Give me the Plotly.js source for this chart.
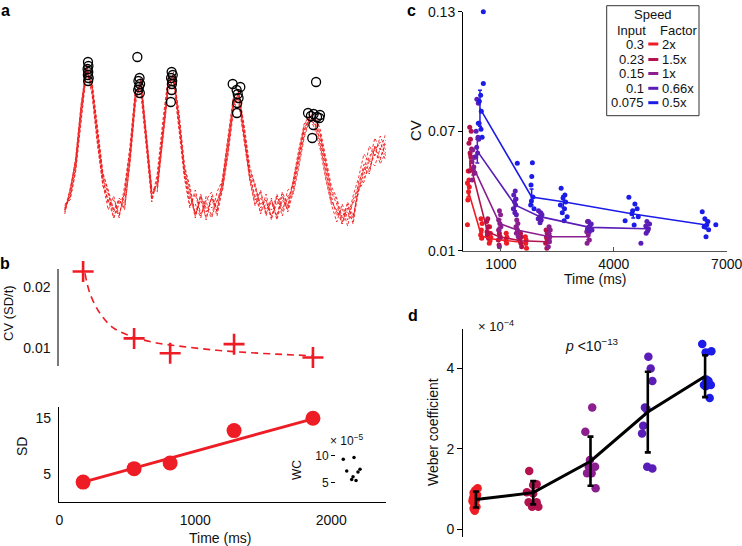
<!DOCTYPE html>
<html>
<head>
<meta charset="utf-8">
<script src="https://cdn.plot.ly/plotly-3.0.1.min.js"></script>
<style>html,body{margin:0;padding:0;background:#fff;}#chart{width:742px;height:546px;}</style>
</head>
<body>
<div id="chart"></div>
<script>
// ---------- Panel a: activity traces (arbitrary units) ----------
const aTime = [40,80,120,160,200,240,280,320,360,400,440,480,520,560,600,640,680,720,760,800,840,880,920,960,1000,1040,1080,1120,1160,1200,1240,1280,1320,1360,1400,1440,1480,1520,1560,1600,1640,1680,1720,1760,1800,1840,1880,1920,1960,2000,2040,2080,2120,2160,2200,2240,2280,2320,2360,2400];
const aTrace1 = [20,36,66,120,166,142,92,50,28,22, 14,38,78,138,146,88,32,48,100,148, 156,108,58,34,16,30,12,32,22,46, 84,126,134,96,56,30,38,14,30,12, 34,20,42,70,98,114,108,90,60,34, 14,22,4,30,44,66,58,84,72,86];
const aTrace2 = [26,30,58,108,158,150,104,58,38,12, 30,22,66,126,150,98,40,40,88,138, 152,118,66,40,14,36,10,34,18,40, 74,118,136,104,64,44,16,36,12,32, 14,34,36,62,92,110,112,96,68,40, 30,8,22,12,40,48,70,64,82,70];
const aTrace3 = [18,40,70,124,162,136,86,46,20,34, 12,44,82,140,136,80,28,52,104,150, 148,100,52,22,40,16,28,14,38,50, 90,130,126,90,50,24,40,16,32,10, 30,22,48,76,104,116,104,84,54,28, 20,6,18,8,48,60,84,74,94,80];
const aTrace4 = [24,32,60,112,160,146,100,56,40,20, 30,20,70,130,152,96,42,38,92,140, 158,114,62,44,16,34,22,12,30,40, 78,122,140,100,60,46,22,30,14,26, 36,18,38,66,94,112,116,100,70,44, 32,12,26,6,40,52,62,76,70,90];
const aTrace5 = [16,38,72,126,164,138,88,44,30,12, 26,36,84,142,140,84,30,56,108,152, 150,104,54,24,36,14,30,38,18,52, 94,134,130,92,52,26,32,20,28,14, 38,24,50,80,106,114,100,80,50,26, 8,26,10,34,52,76,68,92,80,96];
const aTrace6 = [22,34,62,116,160,144,96,52,36,18, 32,26,72,132,148,92,38,44,96,144, 154,110,60,38,12,34,18,32,14,44, 80,124,138,98,58,42,26,30,10,36, 18,40,44,72,100,112,110,94,64,38, 26,6,28,14,38,62,56,84,66,78];
const aTrace7 = [20,42,68,118,158,146,98,54,26,30, 16,34,74,134,144,92,36,46,98,146, 152,112,56,30,26,12,34,22,28,48, 86,128,132,94,54,34,18,26,20,34, 22,30,46,74,102,110,106,88,58,30, 18,14,20,26,42,56,74,80,88,74];
const aPeakTime = [211,214,208,213,210,216,212, 574,590,582,594,586,580,592, 826,834,822,830,828,826,820, 1275,1331,1304,1312,1318,1308,1306, 1888,1829,1850,1870,1895,1917,1912,1868,1860];
const aPeakVal  = [168,164,161,158,155,152,149, 173,152,149,146,143,140,137, 158,155,152,149,146,140,128, 146,143,140,136,132,127,117, 148,117,114,116,113,115,112,105,92];

// ---------- Panel b ----------
const bTime = [175, 550, 815, 1285, 1865];
const bCV   = [0.0226, 0.01155, 0.0091, 0.0106, 0.0084];
const bSD   = [3.6, 6.0, 7.0, 12.8, 15.0];
const bCVfitTime = [189, 225, 299, 397, 544, 716, 912, 1157, 1402, 1647, 1856];
const bCVfit     = [0.0223, 0.0190, 0.0157, 0.0133, 0.0118, 0.0108, 0.0102, 0.0096, 0.0092, 0.0089, 0.0087];
const bSDfitTime = [175, 1865];
const bSDfit     = [3.6, 14.9];
const wcX = [0.97, 2.4, 1.43, 3.2, 2.93, 2.09, 2.67, 2.27];
const wcY = [9.4, 9.7, 7.2, 7.5, 7.0, 5.6, 5.4, 6.1];

// ---------- Panel c ----------
const speedInput  = ['0.3', '0.23', '0.15', '0.1', '0.075'];
const speedFactor = ['2x', '1.5x', '1x', '0.66x', '0.5x'];
const speedColors = ['#ee1c24', '#b3124e', '#8b1f8f', '#5a1db8', '#1c1ce8'];

const cMeanTime = [
  [133, 482, 714, 1146, 1661],
  [177, 642, 952, 1528, 2215],
  [266, 963, 1429, 2292, 3322],
  [373, 1374, 2038, 3366, 4872],
  [443, 1816, 2658, 4517, 6466]
];
const cMeanCV = [
  [0.040, 0.0175, 0.0160, 0.0150, 0.0140],
  [0.054, 0.0195, 0.0170, 0.0150, 0.0145],
  [0.052, 0.0237, 0.0204, 0.0170, 0.0170],
  [0.060, 0.0330, 0.0271, 0.0217, 0.0210],
  [0.0815, 0.0370, 0.0346, 0.0284, 0.0229]
];
const cErr = [
  [0.003, 0.0015, 0.001, 0.001, 0.001],
  [0.004, 0.0015, 0.001, 0.001, 0.001],
  [0.004, 0.002, 0.0015, 0.0015, 0.0015],
  [0.006, 0.003, 0.002, 0.0015, 0.0015],
  [0.009, 0.004, 0.003, 0.002, 0.002]
];
const cDotTime = [
  [130,150,110,160,140,120,110, 470,500,480,460,490, 700,720,730,710,690, 1140,1160,1130,1150, 1650,1670,1660,1680],
  [170,210,190,150,220,180,200,160, 650,620,660,630,640,670, 940,960,980,930,950, 1520,1540,1500,1530,1550, 2200,2230,2210,2240,2190,2220],
  [250,300,230,280,260,310,240, 960,990,940,970,1000,950,980,960, 1420,1450,1400,1440,1410,1460, 2280,2310,2270,2300,2290,2260, 3300,3340,3280,3320,3350,3290],
  [360,400,420,340,390,410,355,380,330, 1380,1340,1400,1360,1390,1330,1370,1410, 2000,2060,2090,2030,1990,2070,2040, 3330,3400,3360,3300,3420,3350, 4880,4950,4850,4920,4900,4860,4720],
  [532,532,461,426,479,399,470,500, 1435,1836,1820,1800,1850,1790,1880,1810, 2600,2700,2650,2720,2580,2690,2630,2760,2680, 4400,4560,4620,4500,4480,4650,4300,4540, 6350,6420,6500,6470,6400,6520,6450,6710]
];
const cDotCV = [
  [0.050,0.0455,0.044,0.042,0.0396,0.0355,0.023, 0.026,0.0237,0.0204,0.0179,0.0162, 0.022,0.0187,0.0167,0.015,0.0137, 0.0187,0.0167,0.0154,0.0137, 0.017,0.0154,0.0137,0.0112],
  [0.072,0.070,0.066,0.064,0.061,0.059,0.057,0.050, 0.026,0.0246,0.022,0.0195,0.0179,0.0162, 0.0204,0.0187,0.017,0.0154,0.0128, 0.0187,0.017,0.0154,0.0137,0.012, 0.0204,0.0187,0.0167,0.0154,0.0137,0.0112],
  [0.0605,0.057,0.0547,0.052,0.0505,0.049,0.0455, 0.030,0.028,0.0254,0.0237,0.022,0.0204,0.0162,0.012, 0.0254,0.0237,0.022,0.0204,0.0187,0.017, 0.022,0.0204,0.0187,0.017,0.0145,0.012, 0.0246,0.022,0.0195,0.0179,0.0154,0.0137],
  [0.086,0.084,0.074,0.070,0.067,0.066,0.062,0.059,0.057, 0.040,0.038,0.036,0.0346,0.033,0.031,0.029,0.028, 0.030,0.029,0.028,0.027,0.026,0.0254,0.024, 0.0246,0.0234,0.022,0.021,0.0204,0.0195, 0.0246,0.0234,0.0224,0.021,0.020,0.0187,0.0137],
  [0.130,0.094,0.088,0.085,0.080,0.074,0.071,0.067, 0.0539,0.0542,0.0472,0.043,0.037,0.033,0.031,0.035, 0.0413,0.038,0.0365,0.0345,0.033,0.031,0.029,0.027,0.025, 0.0368,0.0335,0.031,0.030,0.0285,0.027,0.025,0.0229, 0.0296,0.026,0.0246,0.023,0.022,0.0205,0.017,0.023]
];

// ---------- Panel d ----------
const dCat  = [1, 2, 3, 4, 5];
const dMean = [0.74, 0.91, 1.69, 2.91, 3.80];
const dErr  = [0.20, 0.29, 0.61, 1.00, 0.52];
const dDotX = [
  [1.03,0.99,0.96,1.02,0.95,1.00,0.94,0.97,1.01,0.96,0.98],
  [1.93,2.06,2.00,1.89,2.00,1.92,2.06,1.98,2.09],
  [3.03,2.91,3.08,2.97,2.94,3.02,3.09,2.99],
  [4.01,4.05,4.08,3.95,3.98,3.92,3.90,3.99,4.08],
  [4.95,5.01,5.11,5.06,4.98,5.10,5.01,5.08,5.02]
];
const dDotY = [
  [1.02,0.97,0.91,0.85,0.77,0.73,0.70,0.64,0.56,0.52,0.46],
  [1.45,1.12,1.10,0.92,0.89,0.67,0.67,0.56,0.56],
  [3.02,2.42,1.55,1.55,1.39,1.39,1.02,1.72],
  [4.28,3.99,3.68,3.02,2.98,2.57,2.38,1.55,1.51],
  [4.60,4.39,4.42,3.68,3.58,3.58,3.55,3.26,3.72]
];

// ---------- build ----------
const FONT = 'Liberation Sans, Arial, Helvetica, sans-serif';
const W = 742, H = 546;
const px = x => x / W;
const py = y => 1 - y / H;
const RED = '#ee1c24';

const traces = [];
[aTrace1, aTrace2, aTrace3, aTrace4, aTrace5, aTrace6, aTrace7].forEach(tr => {
  traces.push({x: aTime, y: tr, xaxis: 'x', yaxis: 'y', mode: 'lines',
    line: {color: 'rgba(240,25,25,0.85)', width: 1, dash: '3px,2px'}, hoverinfo: 'skip'});
});
traces.push({x: aPeakTime, y: aPeakVal, xaxis: 'x', yaxis: 'y', mode: 'markers', cliponaxis: false,
  marker: {symbol: 'circle-open', size: 9, color: '#000', line: {width: 1.3, color: '#000'}}});

// b top
traces.push({x: bCVfitTime, y: bCVfit, xaxis: 'x2', yaxis: 'y2', mode: 'lines',
  line: {color: RED, width: 1.6, dash: '7px,5px', shape: 'spline'}});
traces.push({x: bTime, y: bCV, xaxis: 'x2', yaxis: 'y2', mode: 'markers', cliponaxis: false,
  marker: {symbol: 'cross-thin-open', size: 15, color: RED, line: {width: 2.6, color: RED}}});
// b bottom
traces.push({x: bSDfitTime, y: bSDfit, xaxis: 'x3', yaxis: 'y3', mode: 'lines',
  line: {color: RED, width: 2.8}});
traces.push({x: bTime, y: bSD, xaxis: 'x3', yaxis: 'y3', mode: 'markers', cliponaxis: false,
  marker: {symbol: 'circle', size: 15, color: RED}});
// inset
traces.push({x: wcX, y: wcY, xaxis: 'x4', yaxis: 'y4', mode: 'markers',
  marker: {symbol: 'circle', size: 3.5, color: '#000'}});

// c
for (let s = 0; s < 5; s++) {
  traces.push({x: cDotTime[s], y: cDotCV[s], xaxis: 'x5', yaxis: 'y5', mode: 'markers', cliponaxis: false,
    marker: {size: 5, color: speedColors[s]}});
}
for (let s = 0; s < 5; s++) {
  traces.push({x: cMeanTime[s], y: cMeanCV[s], xaxis: 'x5', yaxis: 'y5', mode: 'lines',
    line: {color: speedColors[s], width: 1.6},
    error_y: {type: 'data', array: cErr[s], color: speedColors[s], thickness: 1.5, width: 2}});
}

// d
for (let k = 0; k < 5; k++) {
  traces.push({x: dDotX[k], y: dDotY[k], xaxis: 'x6', yaxis: 'y6', mode: 'markers', cliponaxis: false,
    marker: {size: 8.5, color: speedColors[k]}});
}
traces.push({x: dCat, y: dMean, xaxis: 'x6', yaxis: 'y6', mode: 'lines',
  line: {color: '#000', width: 3},
  error_y: {type: 'data', array: dErr, color: '#000', thickness: 2.6, width: 3}});

const xDomB = [px(59.3), px(385.7)];
const baseAx = {showgrid: false, zeroline: false, fixedrange: true, ticklabeloverflow: 'allow'};
const tf = {family: FONT, size: 14, color: '#111'};

const layout = {
  width: W, height: H, margin: {l: 0, r: 0, t: 0, b: 0},
  paper_bgcolor: '#fff', plot_bgcolor: 'rgba(0,0,0,0)', showlegend: false,
  font: {family: FONT, size: 14, color: '#111'},
  xaxis:  Object.assign({}, baseAx, {domain: xDomB, range: [0, 2400], visible: false, anchor: 'y'}),
  yaxis:  Object.assign({}, baseAx, {domain: [py(232), py(50)], range: [-2, 180], visible: false, anchor: 'x'}),
  xaxis2: Object.assign({}, baseAx, {domain: xDomB, range: [0, 2400], visible: false, anchor: 'y2'}),
  yaxis2: Object.assign({}, baseAx, {domain: [py(366), py(269)], range: [0.007, 0.023], anchor: 'x2',
    showline: true, linecolor: '#7a7a7a', linewidth: 2, tickvals: [0.01, 0.02], ticktext: ['0.01', '0.02'],
    ticks: 'outside', ticklen: 4, tickcolor: 'rgba(0,0,0,0)', tickfont: tf}),
  xaxis3: Object.assign({}, baseAx, {domain: xDomB, range: [0, 2400], anchor: 'y3',
    showline: true, linecolor: '#000', linewidth: 1.5, tickvals: [0, 1000, 2000],
    ticks: 'outside', ticklen: 5, tickcolor: 'rgba(0,0,0,0)', tickfont: tf}),
  yaxis3: Object.assign({}, baseAx, {domain: [py(501.7), py(406.7)], range: [0.1, 17.07], anchor: 'x3',
    showline: true, linecolor: '#000', linewidth: 1.5, tickvals: [5, 15],
    ticks: 'outside', ticklen: 4, tickcolor: 'rgba(0,0,0,0)', tickfont: tf}),
  xaxis4: Object.assign({}, baseAx, {domain: [px(336), px(366)], range: [0, 4], visible: false, anchor: 'y4'}),
  yaxis4: Object.assign({}, baseAx, {domain: [py(492), py(446)], range: [3.26, 11.87], anchor: 'x4',
    showline: false, tickvals: [5, 10], ticks: 'outside', ticklen: 4, tickcolor: '#000', tickwidth: 1,
    tickfont: {family: FONT, size: 12, color: '#111'}}),
  xaxis5: Object.assign({}, baseAx, {domain: [px(463.3), px(726.7)], range: [0, 7000], anchor: 'y5',
    showline: true, linecolor: '#555', linewidth: 1.2, tickvals: [1000, 4000, 7000],
    ticks: 'inside', ticklen: 4, tickcolor: '#555', tickfont: tf}),
  yaxis5: Object.assign({}, baseAx, {domain: [py(250.7), py(11.7)], range: [0.01, 0.13], anchor: 'x5',
    showline: true, linecolor: '#000', linewidth: 1.3, tickvals: [0.01, 0.07, 0.13], ticktext: ['0.01', '0.07', '0.13'],
    ticks: 'outside', ticklen: 4, tickcolor: '#000', tickfont: tf}),
  xaxis6: Object.assign({}, baseAx, {domain: [px(463.3), px(726.7)], range: [0.78, 5.377], visible: false, anchor: 'y6'}),
  yaxis6: Object.assign({}, baseAx, {domain: [py(537), py(329)], range: [-0.19, 4.97], anchor: 'x6',
    showline: true, linecolor: '#000', linewidth: 1.3, tickvals: [0, 2, 4],
    ticks: 'outside', ticklen: 5, tickcolor: '#000', tickfont: tf}),
  shapes: [],
  annotations: []
};

function ann(text, x, y, o) {
  layout.annotations.push(Object.assign({text: text, x: px(x), y: py(y), xref: 'paper', yref: 'paper',
    showarrow: false, xanchor: 'center', yanchor: 'middle', font: {family: FONT, size: 14, color: '#111'}}, o || {}));
}
// panel letters
const letterFont = {family: FONT, size: 16, color: '#000'};
ann('<b>a</b>', 5, 10, {font: letterFont});
ann('<b>b</b>', 5, 263, {font: letterFont});
ann('<b>c</b>', 411, 10, {font: letterFont});
ann('<b>d</b>', 413, 315, {font: letterFont});
// titles
ann('CV (SD/t)', 8, 313, {textangle: -90, font: {family: FONT, size: 13, color: '#111'}});
ann('SD', 22, 447, {textangle: -90});
ann('Time (ms)', 220, 538);
ann('× 10<sup>−5</sup>', 347, 440, {font: {family: FONT, size: 12, color: '#111'}});
ann('WC', 297, 470, {textangle: -90, font: {family: FONT, size: 12, color: '#111'}});
ann('CV', 415, 131, {textangle: -90, font: {family: FONT, size: 15, color: '#111'}});
ann('Time (ms)', 595, 279);
ann('Weber coefficient', 433, 432, {textangle: -90});
ann('× 10<sup>−4</sup>', 496, 326, {font: {family: FONT, size: 13, color: '#111'}});
ann('<i>p</i> &lt;10<sup>−13</sup>', 592, 345);

// legend for panel c
layout.shapes.push({type: 'rect', xref: 'paper', yref: 'paper', x0: px(606.7), x1: px(699), y0: py(115.7), y1: py(5.7),
  line: {color: '#333', width: 1}, fillcolor: 'rgba(255,255,255,0.95)', layer: 'above'});
ann('Speed', 653, 14, {font: {family: FONT, size: 13, color: '#111'}});
ann('Input', 631, 30, {font: {family: FONT, size: 13, color: '#111'}});
ann('Factor', 679, 30, {font: {family: FONT, size: 13, color: '#111'}});
const rowY = [44, 59.5, 73.5, 88.3, 102.7];
for (let s = 0; s < 5; s++) {
  layout.shapes.push({type: 'line', xref: 'paper', yref: 'paper', x0: px(648.3), x1: px(658.3), y0: py(rowY[s]), y1: py(rowY[s]),
    line: {color: speedColors[s], width: 3}, layer: 'above'});
  ann(speedInput[s], 645.5, rowY[s], {xanchor: 'right', font: {family: FONT, size: 13, color: '#111'}});
  ann(speedFactor[s], 660, rowY[s], {xanchor: 'left', font: {family: FONT, size: 13, color: '#111'}});
}

Plotly.newPlot('chart', traces, layout, {staticPlot: true, displayModeBar: false});
</script>
</body>
</html>
